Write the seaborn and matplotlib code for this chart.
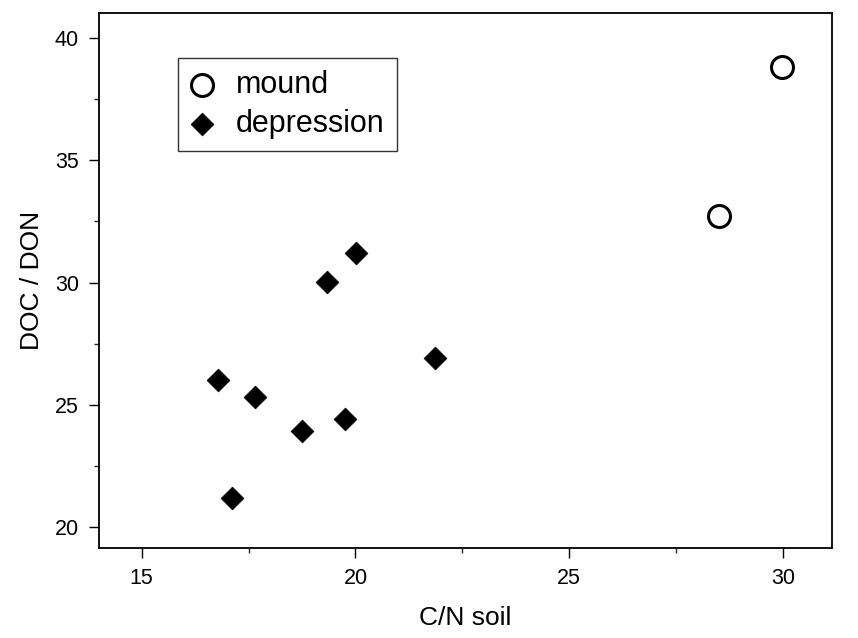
import matplotlib
matplotlib.use("Agg")
import matplotlib.pyplot as plt
import seaborn as sns
from matplotlib.ticker import MultipleLocator

mound_cn = [28.50, 29.98]
mound_ratio = [32.72, 38.84]
depression_cn = [16.79, 17.11, 17.65, 18.74, 19.33, 19.76, 20.02, 21.87]
depression_ratio = [26.01, 21.19, 25.32, 23.93, 30.03, 24.41, 31.20, 26.92]

sns.set_theme(style="white")
plt.rcParams['font.family'] = ['Liberation Sans', 'DejaVu Sans']
plt.rcParams['text.color'] = 'black'
plt.rcParams['axes.labelcolor'] = 'black'

fig = plt.figure(figsize=(8.58, 6.38), dpi=100)
ax = fig.add_axes([99/858, 1-548.3/638, (832-99)/858, (548.3-13.3)/638])

sns.scatterplot(x=mound_cn, y=mound_ratio, ax=ax, marker='o', s=250,
                facecolor='white', edgecolor='black', linewidth=2.2,
                label='mound', zorder=3)
sns.scatterplot(x=depression_cn, y=depression_ratio, ax=ax, marker='D', s=135,
                color='black', edgecolor='black', linewidth=0.5,
                label='depression', zorder=3)

ax.set_xlim(14.0, 31.15)
ax.set_ylim(19.12, 41.02)
ax.xaxis.set_major_locator(MultipleLocator(5))
ax.xaxis.set_minor_locator(MultipleLocator(2.5))
ax.yaxis.set_major_locator(MultipleLocator(5))
ax.yaxis.set_minor_locator(MultipleLocator(2.5))
ax.tick_params(axis='both', which='major', direction='out', length=7.5, width=1,
               labelsize=15.5, colors='black', bottom=True, left=True, pad=7)
ax.tick_params(axis='both', which='minor', direction='out', length=3.5, width=1,
               bottom=True, left=True)
for s in ax.spines.values():
    s.set_color('black')
    s.set_linewidth(1.3)

ax.set_xlabel('C/N soil', fontsize=19, color='black', labelpad=12)
ax.set_ylabel('DOC / DON', fontsize=19, color='black', labelpad=8)

leg = ax.legend(loc='upper left', bbox_to_anchor=(0.1078, 0.9165), borderaxespad=0,
                fontsize=22, frameon=True, fancybox=False, edgecolor='black',
                handlelength=0.8, handletextpad=0.7, borderpad=0.4,
                labelspacing=0.28, markerscale=1.0)
leg.get_frame().set_linewidth(1.0)

fig.savefig('out.png', dpi=100)
